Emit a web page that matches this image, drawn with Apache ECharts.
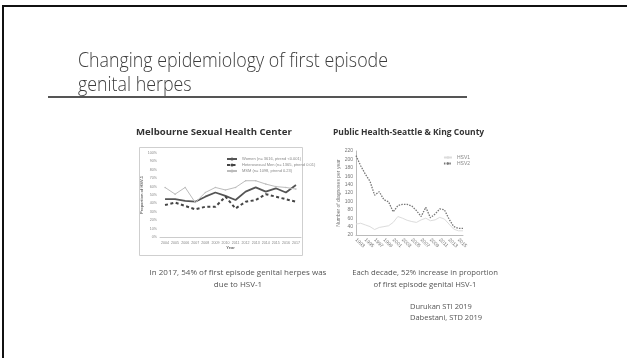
<!DOCTYPE html>
<html>
<head>
<meta charset="utf-8">
<script src="https://cdn.jsdelivr.net/npm/echarts@6/dist/echarts.min.js"></script>
<style>
  html, body { margin: 0; padding: 0; background: #fff; }
  #chart { width: 627px; height: 358px; }
</style>
</head>
<body>
<div id="chart"></div>
<script>
// Melbourne Sexual Health Centre: proportion of first-episode genital herpes due to HSV-1
const melbYears = ['2004','2005','2006','2007','2008','2009','2010','2011','2012','2013','2014','2015','2016','2017'];
const women     = [0.45, 0.45, 0.43, 0.42, 0.48, 0.53, 0.49, 0.44, 0.54, 0.59, 0.54, 0.58, 0.53, 0.62];
const hetMen    = [0.38, 0.41, 0.37, 0.33, 0.36, 0.36, 0.48, 0.34, 0.42, 0.44, 0.51, 0.48, 0.45, 0.42];
const msm       = [0.59, 0.51, 0.59, 0.41, 0.53, 0.59, 0.56, 0.59, 0.67, 0.67, 0.63, 0.60, 0.59, 0.57];
const melbNames = ['Women (n= 3616, ptrend <0.001)', 'Heterosexual Men (n= 1365, ptrend 0.01)', 'MSM (n= 1098, ptrend 0.23)'];

// Seattle & King County: number of first-episode diagnoses per year
const seaYears = ['1993','1994','1995','1996','1997','1998','1999','2000','2001','2002','2003','2004',
                  '2005','2006','2007','2008','2009','2010','2011','2012','2013','2014','2015','2016'];
const hsv2 = [209, 185, 165, 148, 115, 123, 104, 99, 75, 90, 93, 93, 89, 78, 64, 86, 61, 70, 82, 80, 58, 40, 36, 36];
const hsv1 = [46, 48, 44, 40, 33, 38, 40, 42, 50, 64, 60, 55, 52, 50, 56, 60, 54, 56, 62, 58, 46, 34, 30, 30];

const titleLines = ['Changing epidemiology of first episode', 'genital herpes'];

const chart = echarts.init(document.getElementById('chart'));

// slide heading: light face, condensed horizontally so the first line spans 310px
const headFont = '300 21px "Open Sans"';
const ctx = document.createElement('canvas').getContext('2d');
ctx.font = headFont;
const headScale = 310 / ctx.measureText(titleLines[0]).width;
const headText = (txt, y) => ({
  type: 'text', x: 78, y: y, scaleX: headScale, originX: 0,
  style: { text: txt, font: headFont, fill: '#3c3c3c', verticalAlign: 'middle' }
});

chart.setOption({
  animation: false,
  backgroundColor: '#fff',
  title: [
    { text: 'Melbourne Sexual Health Center', left: 131, top: 122,
      textStyle: { fontFamily: 'Open Sans', fontWeight: 'bold', fontSize: 9.6, color: '#333' } },
    { text: 'Public Health-Seattle & King County', left: 328, top: 123,
      textStyle: { fontFamily: 'Open Sans', fontWeight: 'bold', fontSize: 8.5, color: '#333' } },
    { text: 'In 2017, 54% of first episode genital herpes was\ndue to HSV-1', left: 233, top: 262, textAlign: 'center',
      textStyle: { fontFamily: 'Open Sans', fontWeight: 'normal', fontSize: 8, lineHeight: 12, color: '#555' } },
    { text: 'Each decade, 52% increase in proportion\nof first episode genital HSV-1', left: 420, top: 262, textAlign: 'center',
      textStyle: { fontFamily: 'Open Sans', fontWeight: 'normal', fontSize: 7.7, lineHeight: 12, color: '#555' } },
    { text: 'Durukan STI 2019\nDabestani, STD 2019', left: 405, top: 296,
      textStyle: { fontFamily: 'Open Sans', fontWeight: 'normal', fontSize: 7.5, lineHeight: 11, color: '#555' } }
  ],
  graphic: [
    // slide frame
    { type: 'rect', shape: { x: 3, y: 6, width: 640, height: 400 }, style: { fill: 'none', stroke: '#111', lineWidth: 2 } },
    headText(titleLines[0], 61),
    headText(titleLines[1], 85),
    // title rule
    { type: 'line', shape: { x1: 48, y1: 97, x2: 467, y2: 97 }, style: { stroke: '#555', lineWidth: 2 } },
    // frame around the Melbourne plot
    { type: 'rect', shape: { x: 139.5, y: 147.5, width: 163, height: 108 }, style: { fill: 'none', stroke: '#cfcfcf', lineWidth: 1 } }
  ],
  legend: [
    { data: melbNames, orient: 'vertical', left: 221, top: 152, itemWidth: 10, itemHeight: 4, itemGap: 2,
      textStyle: { fontSize: 4, color: '#888', fontFamily: 'Liberation Sans' } },
    { data: ['HSV1', 'HSV2'], orient: 'vertical', right: 152, top: 150, itemWidth: 8, itemHeight: 3, itemGap: 1,
      align: 'left', textStyle: { fontSize: 5, color: '#888', fontFamily: 'Liberation Sans' } }
  ],
  grid: [
    { left: 160, width: 141, top: 153, height: 84 },
    { left: 356, width: 107, top: 151, height: 84 }
  ],
  xAxis: [
    { type: 'category', gridIndex: 0, data: melbYears, boundaryGap: true,
      name: 'Year', nameLocation: 'middle', nameGap: 8, nameTextStyle: { fontSize: 4, color: '#666', fontWeight: 'bold' },
      axisLine: { lineStyle: { color: '#ccc' } }, axisTick: { show: false },
      axisLabel: { fontSize: 3.6, color: '#888', margin: 4, interval: 0 } },
    { type: 'category', gridIndex: 1, data: seaYears, boundaryGap: false,
      axisLine: { lineStyle: { color: '#bbb' } }, axisTick: { show: false },
      axisLabel: { fontSize: 5, color: '#777', rotate: -45, margin: 4, interval: 1 } }
  ],
  yAxis: [
    { type: 'value', gridIndex: 0, min: 0, max: 1, interval: 0.1,
      name: 'Proportion of HSV-1', nameLocation: 'middle', nameGap: 10, nameRotate: 90,
      nameTextStyle: { fontSize: 4, color: '#666', fontWeight: 'bold' },
      axisLine: { show: false }, axisTick: { show: false }, splitLine: { show: false },
      axisLabel: { fontSize: 3.6, color: '#888', margin: 3, formatter: v => Math.round(v * 100) + '%' } },
    { type: 'value', gridIndex: 1, min: 20, max: 220, interval: 20,
      name: 'Number of diagnoses per year', nameLocation: 'middle', nameGap: 11, nameRotate: 90,
      nameTextStyle: { fontSize: 5, color: '#777' },
      axisLine: { show: true, lineStyle: { color: '#bbb' } }, axisTick: { show: false }, splitLine: { show: false },
      axisLabel: { fontSize: 5, color: '#777', margin: 3 } }
  ],
  series: [
    { name: melbNames[0], type: 'line', xAxisIndex: 0, yAxisIndex: 0, data: women, symbol: 'none',
      lineStyle: { color: '#555', width: 1.8 }, itemStyle: { color: '#555' } },
    { name: melbNames[1], type: 'line', xAxisIndex: 0, yAxisIndex: 0, data: hetMen, symbol: 'none',
      lineStyle: { color: '#444', width: 2, type: [3, 2.5] }, itemStyle: { color: '#444' } },
    { name: melbNames[2], type: 'line', xAxisIndex: 0, yAxisIndex: 0, data: msm, symbol: 'circle', symbolSize: 1.5,
      lineStyle: { color: '#bcbcbc', width: 1 }, itemStyle: { color: '#bcbcbc' } },
    { name: 'HSV1', type: 'line', xAxisIndex: 1, yAxisIndex: 1, data: hsv1, symbol: 'none',
      lineStyle: { color: '#dcdcdc', width: 1 }, itemStyle: { color: '#dcdcdc' } },
    { name: 'HSV2', type: 'line', xAxisIndex: 1, yAxisIndex: 1, data: hsv2, symbol: 'none',
      lineStyle: { color: '#777', width: 1.3, type: [1.5, 1.2] }, itemStyle: { color: '#777' } }
  ]
});
</script>
</body>
</html>
